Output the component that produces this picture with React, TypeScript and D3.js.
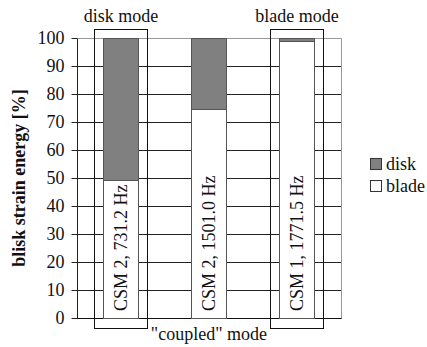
import React from "react";
import * as d3 from "d3";

const modes = ["CSM 2, 731.2 Hz", "CSM 2, 1501.0 Hz", "CSM 1, 1771.5 Hz"];
const bladeShare = [49.4, 74.7, 98.8];
const diskShare = [50.6, 25.3, 1.2];
const yTicks = [0, 10, 20, 30, 40, 50, 60, 70, 80, 90, 100];
const seriesNames = ["disk", "blade"];
const seriesColors = ["#808080", "#ffffff"];
const boxedModes = [
  { index: 0, label: "disk mode" },
  { index: 2, label: "blade mode" },
];
const bottomLabel = '"coupled" mode';
const yTitle = "blisk strain energy [%]";

const W = 427;
const H = 347;
const margin = { left: 77, right: 86, top: 38, bottom: 29 };
const font = "'Liberation Serif', 'Times New Roman', serif";

// snap a coordinate to the pixel centre so 1px strokes stay crisp
const px = (v: number) => Math.round(v) + 0.5;

export default function App() {
  const x = d3
    .scaleBand<string>()
    .domain(modes)
    .range([margin.left, W - margin.right])
    .paddingInner(0.6)
    .paddingOuter(0.3);
  const y = d3.scaleLinear().domain([0, 100]).range([H - margin.bottom, margin.top]);

  const rows = modes.map((m, i) => ({ mode: m, blade: bladeShare[i], disk: diskShare[i] }));
  const stacked = d3.stack<any>().keys(["blade", "disk"])(rows);

  const x0 = px(margin.left);
  const x1 = px(W - margin.right);
  const bw = Math.round(x.bandwidth());

  return (
    <svg
      width={W}
      height={H}
      style={{ position: "absolute", left: 0, top: 0, background: "#fff" }}
      fontFamily={font}
    >
      {/* horizontal grid and ticks */}
      {yTicks.map((t) => (
        <g key={t}>
          <line
            x1={x0 - 6}
            x2={t === 100 ? x0 : x1}
            y1={px(y(t))}
            y2={px(y(t))}
            stroke="#222"
            strokeWidth={1}
          />
          <text x={x0 - 13} y={y(t)} dy="0.35em" textAnchor="end" fontSize={18} fill="#111">
            {t}
          </text>
        </g>
      ))}
      {/* plot frame */}
      <line x1={x0} x2={x1} y1={px(y(100))} y2={px(y(100))} stroke="#999" />
      <line x1={x1} x2={x1} y1={px(y(100))} y2={px(y(0))} stroke="#999" />
      <line x1={x0} x2={x0} y1={px(y(100))} y2={px(y(0))} stroke="#222" />
      <line x1={x0} x2={x1} y1={px(y(0))} y2={px(y(0))} stroke="#111" />

      {/* stacked bars */}
      {stacked.map((layer) =>
        layer.map((d, i) => {
          const top = px(y(d[1]));
          const bottom = px(y(d[0]));
          return (
            <rect
              key={layer.key + i}
              x={px(x(modes[i])!)}
              width={bw}
              y={top}
              height={bottom - top}
              fill={layer.key === "disk" ? seriesColors[0] : seriesColors[1]}
              stroke="#555"
              strokeWidth={1}
            />
          );
        })
      )}

      {/* mode labels inside bars */}
      {modes.map((m) => {
        const cx = x(m)! + bw / 2;
        const by = y(0) - 7;
        return (
          <text
            key={m}
            transform={`translate(${cx + 6},${by}) rotate(-90)`}
            fontSize={18}
            fill="#111"
          >
            {m}
          </text>
        );
      })}

      {/* mode boxes */}
      {boxedModes.map((b) => {
        const bx = px(x(modes[b.index])! - 9);
        return (
          <g key={b.label}>
            <rect
              x={bx}
              y={29.5}
              width={bw + 18}
              height={Math.round(y(0) + 10 - 29)}
              fill="none"
              stroke="#111"
              strokeWidth={1}
            />
            <text x={x(modes[b.index])! + bw / 2} y={22} textAnchor="middle" fontSize={18} fill="#111">
              {b.label}
            </text>
          </g>
        );
      })}
      <text x={x(modes[1])! + bw / 2} y={340} textAnchor="middle" fontSize={18} fill="#111">
        {bottomLabel}
      </text>

      {/* y axis title */}
      <text
        transform={`translate(25,${(y(0) + y(100)) / 2}) rotate(-90)`}
        textAnchor="middle"
        fontSize={18}
        fontWeight="bold"
        fill="#111"
      >
        {yTitle}
      </text>

      {/* legend */}
      {seriesNames.map((s, i) => (
        <g key={s} transform={`translate(370,${158 + i * 22})`}>
          <rect x={0.5} y={0.5} width={11} height={11} fill={seriesColors[i]} stroke="#333" />
          <text x={16} y={6} dy="0.35em" fontSize={18} fill="#111">
            {s}
          </text>
        </g>
      ))}
    </svg>
  );
}
